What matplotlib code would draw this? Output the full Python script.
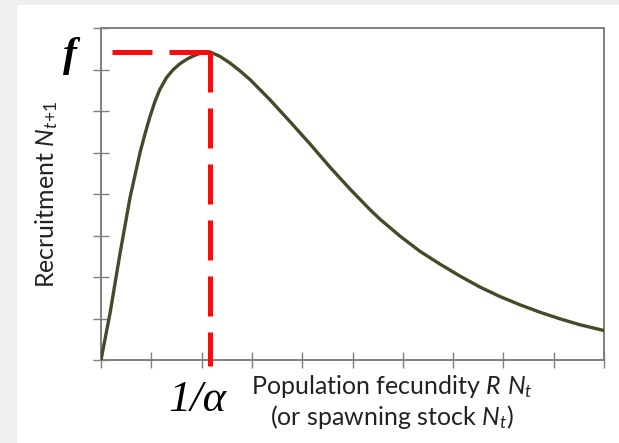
import matplotlib
matplotlib.use("Agg")
import matplotlib.pyplot as plt
from matplotlib.patches import Rectangle

# values (x in tick units, y in tick units)
stock = [0.0, 0.18, 0.38, 0.58, 0.78, 0.88, 0.97, 1.07, 1.17, 1.30, 1.43,
         1.57, 1.71, 1.84, 1.97, 2.07, 2.17, 2.36, 2.56, 2.76, 2.96, 3.36,
         3.76, 4.16, 4.55, 4.95, 5.35, 5.55, 5.95, 6.34, 6.74, 7.14, 7.53,
         7.93, 8.33, 8.73, 9.13, 9.52, 10.0]
recruits = [0.0, 1.13, 2.58, 3.93, 5.02, 5.47, 5.85, 6.22, 6.52, 6.80, 6.99,
            7.14, 7.25, 7.33, 7.39, 7.41, 7.42, 7.32, 7.16, 6.97, 6.76, 6.27,
            5.74, 5.20, 4.65, 4.12, 3.62, 3.39, 2.98, 2.62, 2.31, 2.02, 1.76,
            1.53, 1.33, 1.15, 0.99, 0.85, 0.71]
peak_x = 2.17
peak_y = 7.42
x_ticks = list(range(0, 11))
y_ticks = list(range(0, 9))

plt.rcParams['mathtext.fontset'] = 'custom'
plt.rcParams['mathtext.rm'] = 'Lato'
plt.rcParams['mathtext.it'] = 'Lato:italic'

fig = plt.figure(figsize=(6.19, 4.43), dpi=100, facecolor='#efefef')
fig.patches.append(Rectangle((17/619, 0), 1, 1 - 5/443, transform=fig.transFigure,
                             facecolor='white', edgecolor='none', zorder=-5))
ax = fig.add_axes([101/619, 1 - 360/443, 503/619, 332/443])
ax.set_facecolor('white')

ax.plot(stock, recruits, color='#454a28', lw=2.4, zorder=3,
        solid_joinstyle='round')

# red guide lines to the peak
ax.plot([0.22, peak_x], [peak_y, peak_y], color='#ff0a0a', lw=3.6,
        dashes=(8, 3.4), solid_capstyle='butt', zorder=4, clip_on=False)
ax.plot([peak_x, peak_x], [peak_y, -0.15], color='#ff0a0a', lw=3.6,
        dashes=(8, 3.2), solid_capstyle='butt', zorder=4, clip_on=False)

ax.set_xlim(0, 10)
ax.set_ylim(0, 8)
ax.set_xticks(x_ticks)
ax.set_yticks(y_ticks)
ax.set_xticklabels([])
ax.set_yticklabels([])
ax.tick_params(direction='inout', length=12, width=1, color='#7f7f7f')
for s in ax.spines.values():
    s.set_color('#7f7f7f')
    s.set_linewidth(1.4)

ax.set_ylabel(r'Recruitment $N_{\mathit{t}\!+\!\mathit{1}}$', fontsize=18,
              family='Lato', color='#222222', labelpad=20)
fig.text(392/619, 1 - 387/443, r'Population fecundity $\mathit{R}\ N_t$',
         fontsize=18, family='Lato', color='#222222', ha='center', va='center')
fig.text(392/619, 1 - 417/443, r'(or spawning stock $N_t$)',
         fontsize=18, family='Lato', color='#222222', ha='center', va='center')

fig.text(70/619, 1 - 56/443, 'f', fontsize=30, family='Liberation Serif',
         style='italic', weight='bold', ha='center', va='center')
fig.text(197/619, 1 - 400/443, '1/\u03b1', fontsize=32, family='Liberation Serif',
         style='italic', ha='center', va='center')

plt.savefig('out.png', dpi=100, facecolor=fig.get_facecolor())
